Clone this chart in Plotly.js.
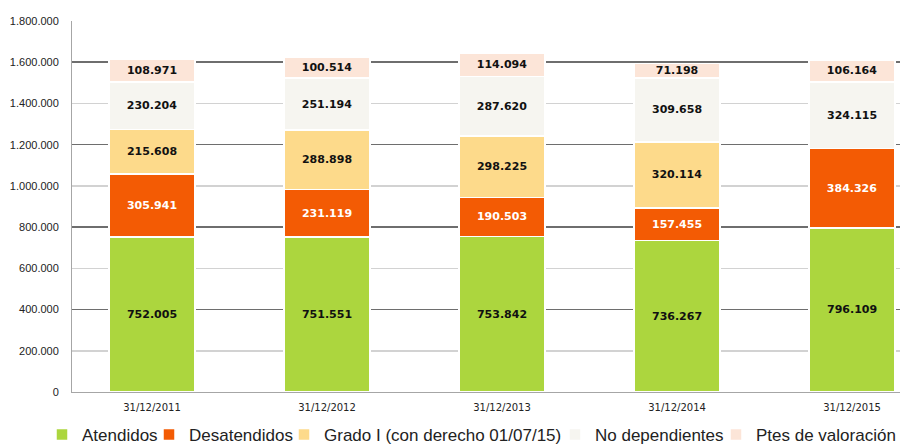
<!DOCTYPE html>
<html>
<head>
<meta charset="utf-8">
<script src="https://cdn.plot.ly/plotly-3.0.1.min.js"></script>
<style>html,body{margin:0;padding:0;background:#fff;}#chart{width:900px;height:446px;}</style>
</head>
<body>
<div id="chart"></div>
<script>
const categories = ["31/12/2011", "31/12/2012", "31/12/2013", "31/12/2014", "31/12/2015"];
const seriesNames = ["Atendidos", "Desatendidos", "Grado I (con derecho 01/07/15)", "No dependientes", "Ptes de valoración"];
const atendidos = [752005, 751551, 753842, 736267, 796109];
const desatendidos = [305941, 231119, 190503, 157455, 384326];
const gradoI = [215608, 288898, 298225, 320114, null];
const noDependientes = [230204, 251194, 287620, 309658, 324115];
const ptesValoracion = [108971, 100514, 114094, 71198, 106164];
const yTickVals = [0, 200000, 400000, 600000, 800000, 1000000, 1200000, 1400000, 1600000, 1800000];
const yMajorVals = [0, 400000, 800000, 1200000, 1600000];

const colors = ["#ACD63E", "#F35B04", "#FDDA8B", "#F6F5F0", "#FCE5D8"];
const textColors = ["#111", "#fff", "#111", "#111", "#111"];
const allSeries = [atendidos, desatendidos, gradoI, noDependientes, ptesValoracion];
const legendIds = ["legend", "legend2", "legend3", "legend4", "legend5"];
const legendLeftPx = [42, 149, 284, 555, 716];

const traces = allSeries.map((vals, i) => ({
  type: "bar",
  name: seriesNames[i],
  legend: legendIds[i],
  x: categories,
  y: vals,
  marker: {color: colors[i], line: {color: "#ffffff", width: 1.5}},
  texttemplate: "%{y:,}",
  textposition: "inside",
  insidetextanchor: "middle",
  textangle: 0,
  constraintext: "none",
  textfont: {family: "DejaVu Sans, sans-serif", size: 11, color: textColors[i], weight: "bold"},
  hoverinfo: "none"
}));
// invisible helper to activate the overlay axis for the darker gridlines
traces.push({type: "scatter", x: [categories[0]], y: [0], yaxis: "y2", mode: "markers",
  marker: {opacity: 0}, showlegend: false, hoverinfo: "skip"});

const layout = {
  width: 900, height: 446,
  margin: {l: 72, r: 0, t: 21, b: 54, autoexpand: false},
  separators: ",.",
  barmode: "stack",
  bargap: 0.51,
  paper_bgcolor: "#ffffff",
  plot_bgcolor: "#ffffff",
  showlegend: true,
  xaxis: {
    type: "category",
    range: [-0.457, 4.274],
    showline: true, linecolor: "#a6a6a6", linewidth: 1,
    showgrid: false, ticks: "", ticklabelstandoff: 6,
    tickfont: {family: "DejaVu Sans, sans-serif", size: 10, color: "#222"}
  },
  yaxis: {
    range: [0, 1800000],
    tickvals: yTickVals,
    tickformat: ",",
    showgrid: true, gridcolor: "#d2d2d2", gridwidth: 1.5,
    zeroline: false,
    showline: true, linecolor: "#a6a6a6", linewidth: 1,
    ticks: "", ticklabelstandoff: 10,
    tickfont: {family: "Liberation Sans, Arial, sans-serif", size: 11, color: "#222"}
  },
  yaxis2: {
    overlaying: "y", side: "left",
    range: [0, 1800000],
    tickvals: yMajorVals,
    showticklabels: false,
    showgrid: true, gridcolor: "#6e6e6e", gridwidth: 1.5,
    zeroline: false, showline: false, ticks: ""
  }
};
legendIds.forEach((id, i) => {
  layout[id] = {
    orientation: "h", xref: "container", yref: "container",
    x: legendLeftPx[i] / 900, xanchor: "left", y: 11 / 446, yanchor: "middle",
    font: {family: "Liberation Sans, Arial, sans-serif", size: 17, color: "#222"},
    itemwidth: 30, bgcolor: "rgba(0,0,0,0)"
  };
});

Plotly.newPlot("chart", traces, layout, {staticPlot: true, displayModeBar: false});
</script>
</body>
</html>
